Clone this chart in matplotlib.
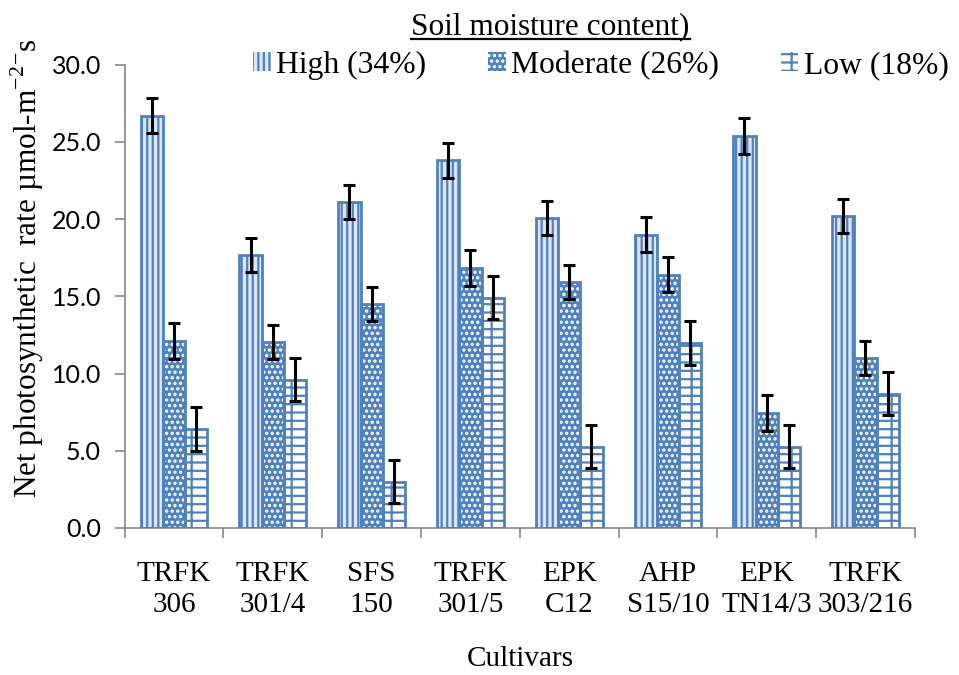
import matplotlib
matplotlib.use("Agg")
import matplotlib.pyplot as plt
import numpy as np

plt.rcParams['mathtext.fontset'] = 'custom'
plt.rcParams['mathtext.rm'] = 'Liberation Serif'
plt.rcParams['hatch.linewidth'] = 1.6

cultivars = ['TRFK\n306', 'TRFK\n301/4', 'SFS\n150', 'TRFK\n301/5', 'EPK\nC12',
             'AHP\nS15/10', 'EPK\nTN14/3', 'TRFK\n303/216']
high = [26.7, 17.7, 21.1, 23.8, 20.1, 19.0, 25.4, 20.2]
moderate = [12.1, 12.05, 14.5, 16.85, 15.9, 16.4, 7.45, 11.0]
low = [6.4, 9.6, 3.0, 14.9, 5.25, 12.0, 5.25, 8.7]
high_err = [1.15, 1.1, 1.1, 1.15, 1.1, 1.15, 1.15, 1.1]
moderate_err = [1.15, 1.1, 1.1, 1.15, 1.1, 1.13, 1.15, 1.1]
low_err = [1.4, 1.4, 1.4, 1.4, 1.4, 1.42, 1.4, 1.4]
series_names = ['High (34%)', 'Moderate (26%)', 'Low (18%)']

blue = '#4F81BD'
serif = 'Liberation Serif'

fig = plt.figure(figsize=(9.59, 6.75), dpi=100)
ax = fig.add_axes([0.130, 0.218, 0.824, 0.686])

x = np.arange(len(cultivars))
w = 0.225

# (facecolor, hatch, hatch colour)
styles = [('#DCE6F2', '|||', blue), (blue, '...', 'white'), ('white', '+-', blue)]
data = [(high, high_err), (moderate, moderate_err), (low, low_err)]

handles = []
for i, ((vals, errs), (fc, hatch, hc)) in enumerate(zip(data, styles)):
    pos = x + (i - 1) * w
    ax.bar(pos, vals, w, color=fc, hatch=hatch, edgecolor=hc, linewidth=0, zorder=2)
    ax.bar(pos, vals, w, fill=False, edgecolor=blue, linewidth=2, zorder=3)
    ax.errorbar(pos, vals, yerr=errs, fmt='none', ecolor='black', elinewidth=2.2,
                capsize=4.5, capthick=2.2, zorder=4)
    handles.append(plt.Rectangle((0, 0), 1, 1, facecolor=fc, hatch=hatch,
                                 edgecolor=hc, linewidth=0))

yt = np.arange(0, 30.1, 5)
ax.set_xlim(-0.5, len(cultivars) - 0.5)
ax.set_ylim(0, 30)
ax.set_yticks(yt)
ax.set_yticklabels([f'{v:.1f}' for v in yt], family='Lato', fontsize=18)
ax.set_xticks(x)
ax.set_xticklabels(cultivars, family=serif, fontsize=21, linespacing=1.25)
ax.set_xticks(np.arange(-0.5, len(cultivars)), minor=True)
ax.tick_params(axis='x', which='major', length=0, pad=24)
ax.tick_params(axis='x', which='minor', length=7, color='#868686', width=1.2)
ax.tick_params(axis='y', length=7, color='#868686', width=1.2, pad=10)

for s in ['top', 'right']:
    ax.spines[s].set_visible(False)
for s in ['left', 'bottom']:
    ax.spines[s].set_color('#868686')
    ax.spines[s].set_linewidth(1.2)

ax.set_xlabel('Cultivars', family=serif, fontsize=21, labelpad=20)
ax.set_ylabel('Net photosynthetic  rate µmol-m$^{-2}$$^{-}$s', family=serif, fontsize=22.5)
ax.yaxis.set_label_coords(-0.10, 0.56)

fig.legend(handles, series_names, ncol=3, frameon=False,
           prop={'family': serif, 'size': 22.8}, loc='center left',
           bbox_to_anchor=(0.264, 0.903), handlelength=0.55, handleheight=0.55,
           handletextpad=0.18, columnspacing=1.95, borderpad=0, borderaxespad=0)

title = fig.text(0.574, 0.960, 'Soil moisture content)', family=serif, fontsize=22.5,
                 ha='center', va='center')
fig.canvas.draw()
bb = title.get_window_extent().transformed(fig.transFigure.inverted())
fig.add_artist(plt.Line2D([bb.x0, bb.x1], [bb.y0 + 0.004, bb.y0 + 0.004],
                          color='black', lw=1.6))

fig.savefig('out.png', dpi=100)
